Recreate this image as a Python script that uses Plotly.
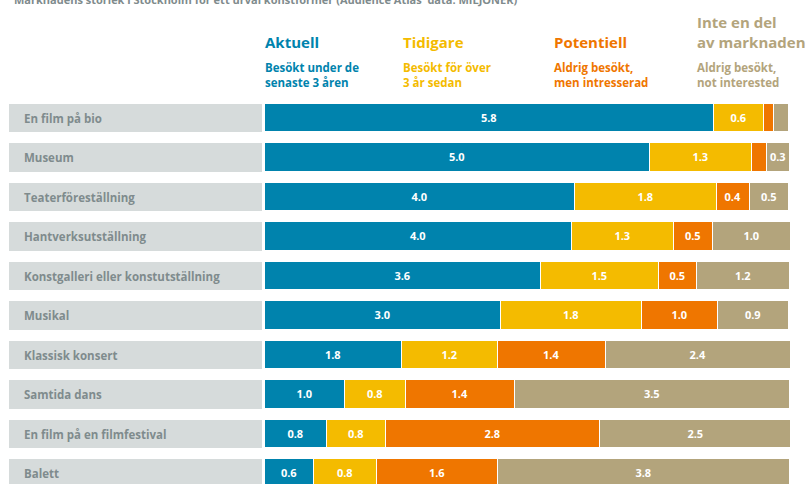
import plotly.graph_objects as go

categories = ["En film på bio", "Museum", "Teaterföreställning", "Hantverksutställning",
              "Konstgalleri eller konstutställning", "Musikal", "Klassisk konsert",
              "Samtida dans", "En film på en filmfestival", "Balett"]
aktuell = [5.79, 4.96, 4.00, 3.96, 3.56, 3.04, 1.77, 1.03, 0.80, 0.63]
tidigare = [0.64, 1.32, 1.83, 1.31, 1.52, 1.82, 1.23, 0.79, 0.76, 0.81]
potentiell = [0.14, 0.19, 0.42, 0.51, 0.49, 0.98, 1.40, 1.41, 2.76, 1.56]
inte = [0.19, 0.30, 0.51, 1.00, 1.20, 0.92, 2.38, 3.54, 2.47, 3.77]

series = [
    ("Aktuell", aktuell, "#0083ad"),
    ("Tidigare", tidigare, "#f4bb00"),
    ("Potentiell", potentiell, "#ef7600"),
    ("Inte en del av marknaden", inte, "#b3a47c"),
]

W, H = 806, 484
FONT = "Open Sans"
GRAY_TXT = "#7f8b8d"

fig = go.Figure()

# label column backgrounds
fig.add_trace(go.Bar(
    y=categories, x=[1] * len(categories), orientation="h",
    xaxis="x2", yaxis="y", marker=dict(color="#d6dbdb", line=dict(width=0)),
    width=0.71, hoverinfo="skip", showlegend=False))

for name, vals, col in series:
    fig.add_trace(go.Bar(
        y=categories, x=vals, orientation="h", name=name,
        marker=dict(color=col, line=dict(color="white", width=1.5)),
        width=0.71,
        text=[f"{v:.1f}" if v >= 0.25 else "" for v in vals],
        textposition="inside", insidetextanchor="middle",
        textfont=dict(color="white", size=11, family=FONT, weight="bold"),
        constraintext="none", showlegend=False))

# row labels
for c in categories:
    fig.add_annotation(x=0.05, y=c, xref="x2", yref="y", text=c, showarrow=False,
                       xanchor="left", yanchor="middle",
                       font=dict(size=11.5, color=GRAY_TXT, family=FONT, weight="bold"))

def px(x):
    return x / W

def py(y):
    return 1 - y / H

fig.add_annotation(x=px(12), y=py(-1), xref="paper", yref="paper", showarrow=False,
                   xanchor="left", yanchor="middle",
                   text="Marknadens storlek i Stockholm för ett urval konstformer (Audience Atlas' data: MILJONER)",
                   font=dict(size=11, color=GRAY_TXT, family=FONT, weight="bold"))

headers = [
    (265, "Aktuell", "Besökt under de<br>senaste 3 åren", "#0083ad"),
    (403, "Tidigare", "Besökt för över<br>3 år sedan", "#f4bb00"),
    (554, "Potentiell", "Aldrig besökt,<br>men intresserad", "#ef7600"),
    (697, "Inte en del<br>av marknaden", "Aldrig besökt,<br>not interested", "#b3a47c"),
]
for x, head, sub, col in headers:
    fig.add_annotation(x=px(x - 2), y=py(54), xref="paper", yref="paper", showarrow=False,
                       xanchor="left", yanchor="bottom", align="left", text=head,
                       font=dict(size=15, color=col, family=FONT, weight="bold"))
    fig.add_annotation(x=px(x - 2), y=py(58), xref="paper", yref="paper", showarrow=False,
                       xanchor="left", yanchor="top", align="left", text=sub,
                       font=dict(size=11.5, color=col, family=FONT, weight="bold"))

row0, step = 118, 39.5
y_top = (0 - row0) / step
y_bot = (H - row0) / step

fig.update_layout(
    width=W, height=H, barmode="stack",
    margin=dict(l=0, r=0, t=0, b=0),
    paper_bgcolor="white", plot_bgcolor="white",
    font=dict(family=FONT),
    xaxis=dict(domain=[px(265), px(790)], range=[0, 6.77], visible=False, fixedrange=True),
    xaxis2=dict(domain=[px(9), px(262)], range=[0, 1], visible=False, anchor="y"),
    yaxis=dict(range=[y_bot, y_top], visible=False, domain=[0, 1]),
    bargap=0,
)

fig.write_html("out.html", config={"displayModeBar": False},
               post_script="document.body.style.margin='0';document.body.style.overflow='hidden';")
